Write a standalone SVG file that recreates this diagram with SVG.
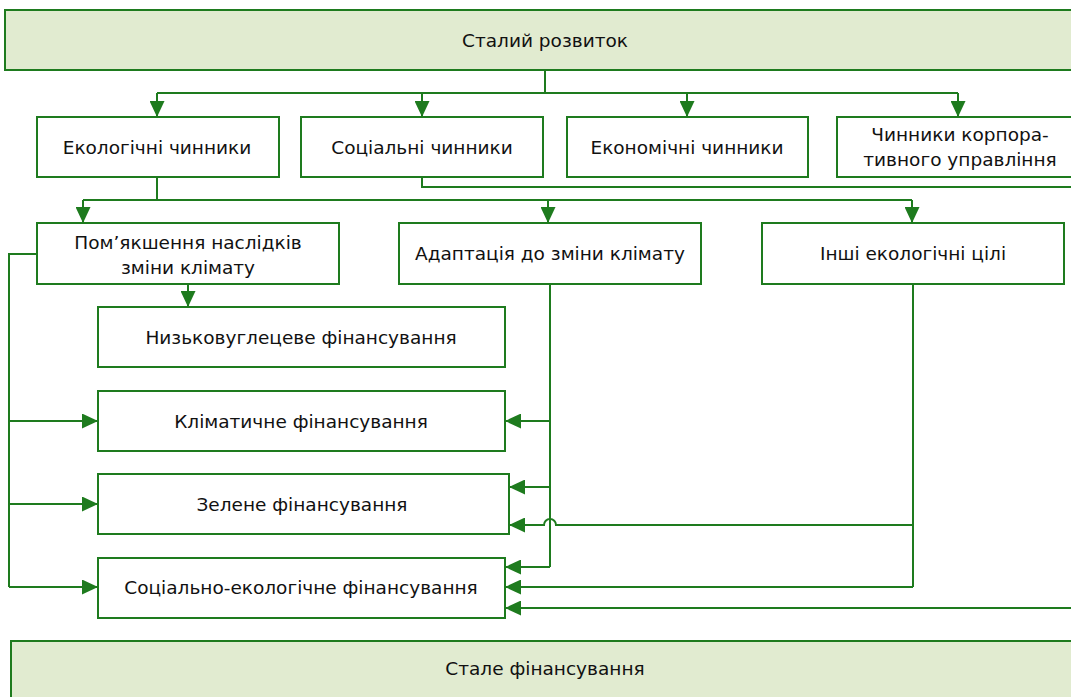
<svg xmlns="http://www.w3.org/2000/svg" width="1071" height="697" viewBox="0 0 1071 697">
<style>
.box{fill:#ffffff;stroke:#1e7b1e;stroke-width:2}
.main{fill:#e1ebd0;stroke:#1e7b1e;stroke-width:2}
.t{font-family:"DejaVu Sans","Liberation Sans",Arial,sans-serif;font-size:18.5px;fill:#111111;text-anchor:middle;dominant-baseline:central}
.c{fill:none;stroke:#1e7b1e;stroke-width:2}
.a{marker-end:url(#arr)}
</style>
<defs>
<marker id="arr" markerUnits="userSpaceOnUse" viewBox="0 0 16 15" refX="16" refY="7.5" markerWidth="16" markerHeight="15" orient="auto">
<path d="M0,0 L16,7.5 L0,15 Z" fill="#1e7b1e"/>
</marker>
</defs>
<g id="node-stalyi-rozvytok"><rect class="main" x="5" y="10" width="1075" height="60"/><text class="t" x="545" y="40">Сталий розвиток</text></g>
<g id="node-ekologichni"><rect class="box" x="37" y="117" width="242" height="60"/><text class="t" x="157" y="147">Екологічні чинники</text></g>
<g id="node-sotsialni"><rect class="box" x="301" y="117" width="242" height="60"/><text class="t" x="422" y="147">Соціальні чинники</text></g>
<g id="node-ekonomichni"><rect class="box" x="567" y="117" width="241" height="60"/><text class="t" x="687" y="147">Економічні чинники</text></g>
<g id="node-korporatyvni"><rect class="box" x="837" y="117" width="245" height="60"/><text class="t" x="960" y="134">Чинники корпора-</text><text class="t" x="960" y="159">тивного управління</text></g>
<g id="node-pomyakshennya"><rect class="box" x="37" y="223" width="302" height="61"/><text class="t" x="188" y="242">Пом’якшення наслідків</text><text class="t" x="188" y="267">зміни клімату</text></g>
<g id="node-adaptatsiya"><rect class="box" x="399" y="223" width="302" height="61"/><text class="t" x="550" y="253">Адаптація до зміни клімату</text></g>
<g id="node-inshi"><rect class="box" x="762" y="223" width="302" height="61"/><text class="t" x="913" y="253">Інші екологічні цілі</text></g>
<g id="node-nyzkovuhletseve"><rect class="box" x="98" y="307" width="407" height="60"/><text class="t" x="301" y="337">Низьковуглецеве фінансування</text></g>
<g id="node-klimatychne"><rect class="box" x="98" y="391" width="407" height="60"/><text class="t" x="301" y="421">Кліматичне фінансування</text></g>
<g id="node-zelene"><rect class="box" x="98" y="474" width="411" height="60"/><text class="t" x="302" y="504">Зелене фінансування</text></g>
<g id="node-sotsialno-ekolohichne"><rect class="box" x="98" y="558" width="407" height="60"/><text class="t" x="301" y="587">Соціально-екологічне фінансування</text></g>
<g id="node-stale"><rect class="main" x="11" y="641" width="1075" height="70"/><text class="t" x="545" y="668">Стале фінансування</text></g>
<g id="connectors">
<path class="c" d="M545,70 V93 M157,93 H958"/>
<path class="c a" d="M157,93 V117"/>
<path class="c a" d="M422,93 V117"/>
<path class="c a" d="M687,93 V117"/>
<path class="c a" d="M958,93 V117"/>
<path class="c" d="M422,177 V187 H1075"/>
<path class="c" d="M157,177 V200 M83,200 H912"/>
<path class="c a" d="M83,200 V223"/>
<path class="c a" d="M548,200 V223"/>
<path class="c a" d="M912,200 V223"/>
<path class="c a" d="M188,284 V307"/>
<path class="c" d="M37,254 H9 V587"/>
<path class="c a" d="M9,421 H98"/>
<path class="c a" d="M9,504 H98"/>
<path class="c a" d="M9,587 H98"/>
<path class="c" d="M550,284 V567"/>
<path class="c a" d="M550,421 H505"/>
<path class="c a" d="M550,487 H509"/>
<path class="c a" d="M550,567 H505"/>
<path class="c" d="M913,284 V587"/>
<path class="c a" d="M913,525 H556 A6,6 0 0 0 544,525 H509"/>
<path class="c a" d="M913,587 H505"/>
<path class="c a" d="M1075,608 H505"/>
</g>
</svg>
